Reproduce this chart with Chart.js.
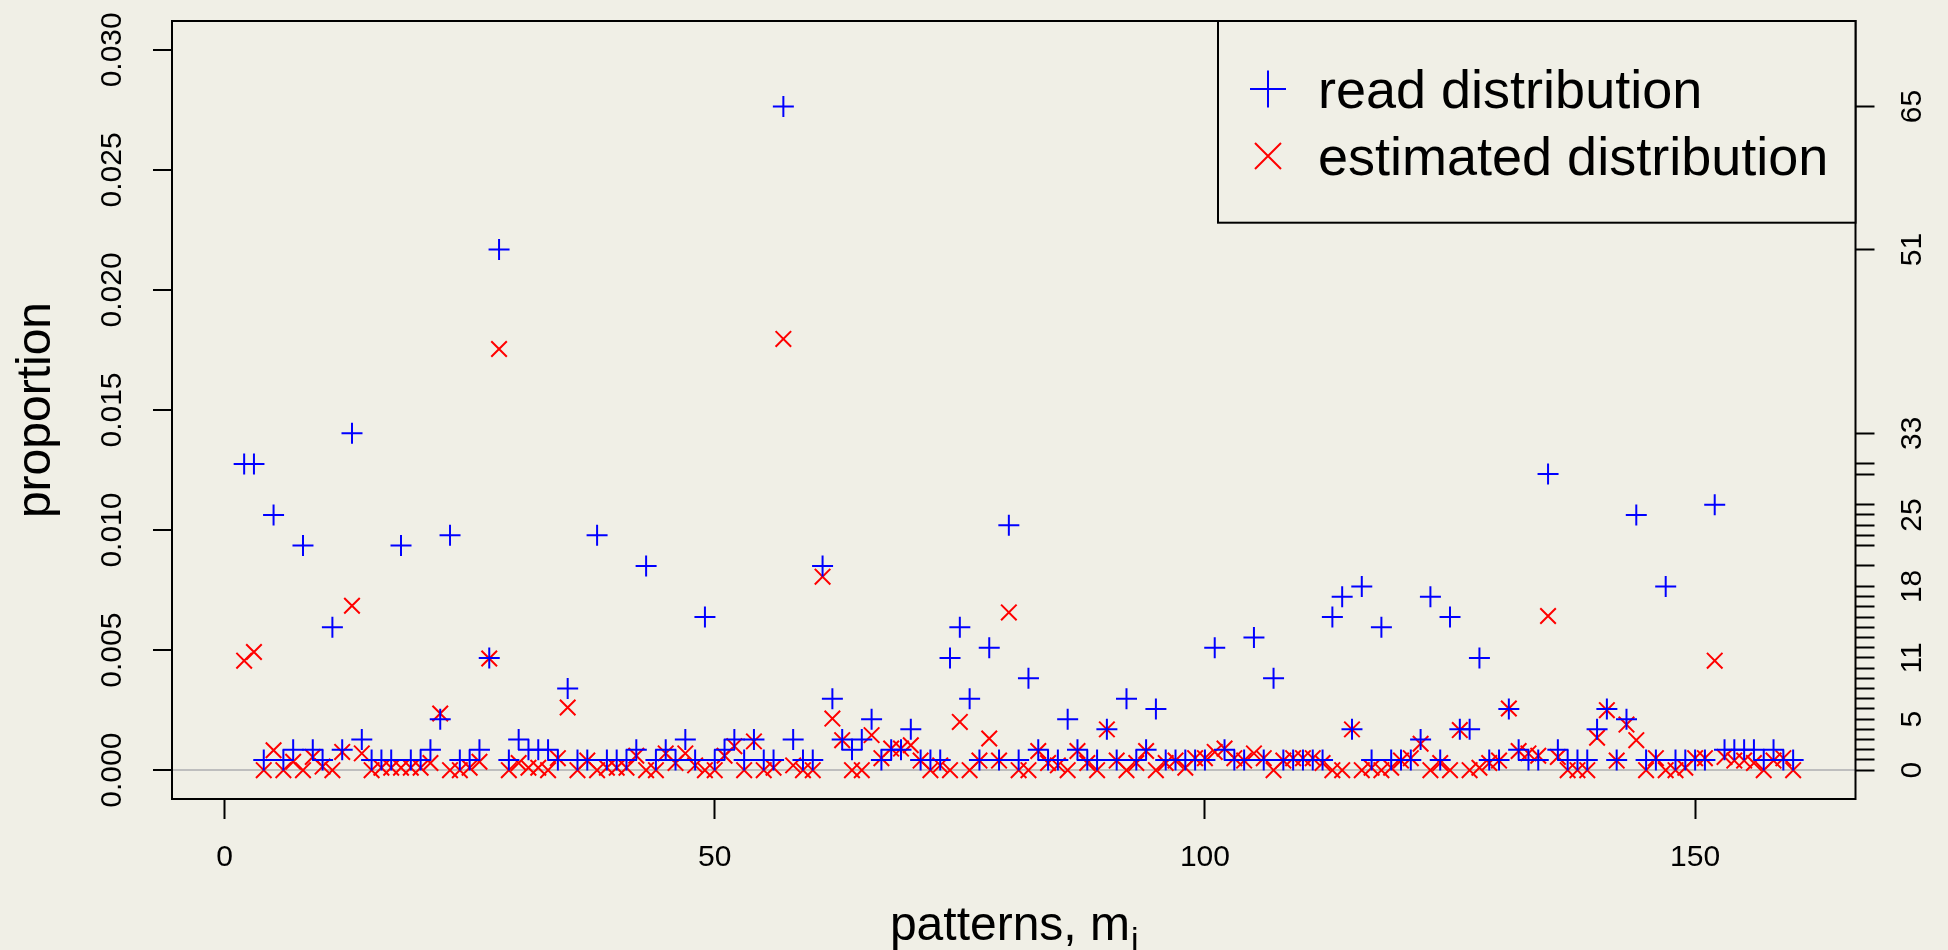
<!DOCTYPE html>
<html lang="en">
<head>
    <meta charset="UTF-8">
    <title>Read vs estimated pattern distribution</title>
    <script src="https://cdn.jsdelivr.net/npm/chart.js@4"></script>
    <style>
        html, body {
            margin: 0;
            padding: 0;
            background-color: #f0efe6;
        }
        #wrap {
            width: 1948px;
            height: 950px;
        }
    </style>
</head>
<body>
<div id="wrap"><canvas id="patternChart" width="1948" height="950"></canvas></div>
<script>
    // pattern index m_i (pattern 1 lies far above the plotted range)
    const patterns = [
          2,   3,   4,   5,   6,   7,   8,   9,  10,  11,
         12,  13,  14,  15,  16,  17,  18,  19,  20,  21,
         22,  23,  24,  25,  26,  27,  28,  29,  30,  31,
         32,  33,  34,  35,  36,  37,  38,  39,  40,  41,
         42,  43,  44,  45,  46,  47,  48,  49,  50,  51,
         52,  53,  54,  55,  56,  57,  58,  59,  60,  61,
         62,  63,  64,  65,  66,  67,  68,  69,  70,  71,
         72,  73,  74,  75,  76,  77,  78,  79,  80,  81,
         82,  83,  84,  85,  86,  87,  88,  89,  90,  91,
         92,  93,  94,  95,  96,  97,  98,  99, 100, 101,
        102, 103, 104, 105, 106, 107, 108, 109, 110, 111,
        112, 113, 114, 115, 116, 117, 118, 119, 120, 121,
        122, 123, 124, 125, 126, 127, 128, 129, 130, 131,
        132, 133, 134, 135, 136, 137, 138, 139, 140, 141,
        142, 143, 144, 145, 146, 147, 148, 149, 150, 151,
        152, 153, 154, 155, 156, 157, 158, 159, 160
    ];

    // number of reads per pattern (right axis)
    const readCounts = [
        30, 30,  1, 25,  1,  2, 22,  2,  1, 14,
         2, 33,  3,  1,  1,  1, 22,  1,  1,  2,
         5, 23,  1,  1,  2, 11, 51,  1,  3,  2,
         2,  2,  1,  8,  1,  1, 23,  1,  1,  1,
         2, 20,  1,  2,  1,  3,  1, 15,  1,  2,
         3,  1,  3,  1,  1, 65,  3,  1,  1, 20,
         7,  3,  2,  3,  5,  1,  2,  2,  4,  1,
         1,  1, 11, 14,  7,  1, 12,  1, 24,  1,
         9,  2,  1,  1,  5,  2,  1,  1,  4,  1,
         7,  1,  2,  6,  1,  1,  1,  1,  1, 12,
         2,  1,  1, 13,  1,  9,  1,  1,  1,  1,
         1, 15, 17,  4, 18,  1, 14,  1,  1,  1,
         3, 17,  1, 15,  4,  4, 11,  1,  1,  6,
         2,  1,  1, 29,  2,  1,  1,  1,  4,  6,
         1,  5, 25,  1,  1, 18,  1,  1,  1,  1,
        26,  2,  2,  2,  2,  1,  2,  1,  1
    ];
    const totalReads = 2352;

    // estimated proportion per pattern
    const estimated = [
        0.00456, 0.00492, 0.0,     0.00083, 0.0,     0.00035, 0.0,     0.00055, 0.00015, 0.0,
        0.00076, 0.00685, 0.0007,  0.0,     0.0001,  0.0001,  0.0001,  0.0001,  0.0001,  0.0003,
        0.00236, 0.0,     0.0,     0.0001,  0.00035, 0.00465, 0.01754, 0.0,     0.0003,  0.0001,
        0.0001,  0.0,     0.0005,  0.00261, 0.0,     0.0004,  0.0,     0.0001,  0.0001,  0.0001,
        0.0006,  0.0,     0.0,     0.0007,  0.0003,  0.0007,  0.0002,  0.0,     0.0,     0.0006,
        0.001,   0.0,     0.0012,  0.0,     0.0001,  0.01796, 0.0002,  0.0,     0.0,     0.00806,
        0.00215, 0.00125, 0.0,     0.0,     0.00146, 0.0005,  0.0009,  0.0009,  0.00104, 0.0004,
        0.0,     0.0002,  0.0,     0.00201, 0.0,     0.0004,  0.00132, 0.0004,  0.00657, 0.0,
        0.0,     0.0008,  0.0003,  0.0002,  0.0,     0.0008,  0.0003,  0.0,     0.0017,  0.0004,
        0.0,     0.0003,  0.0008,  0.0,     0.0003,  0.0004,  0.0001,  0.0005,  0.0005,  0.00076,
        0.0009,  0.0005,  0.0004,  0.0007,  0.0005,  0.0,     0.0004,  0.0005,  0.0005,  0.0005,
        0.0003,  0.0,     0.0,     0.0017,  0.0,     0.0001,  0.0,     0.0001,  0.0004,  0.0005,
        0.0011,  0.0,     0.0003,  0.0,     0.00167, 0.0,     0.0001,  0.0003,  0.0004,  0.00257,
        0.0008,  0.0007,  0.0006,  0.00642, 0.00055, 0.0,     0.0,     0.0,     0.00135, 0.0025,
        0.0004,  0.0019,  0.00125, 0.0,     0.0005,  0.0,     0.0,     0.0001,  0.0005,  0.0005,
        0.00456, 0.00055, 0.0004,  0.0004,  0.0003,  0.0,     0.0004,  0.0005,  0.0
    ];

    const xTicks = [0, 50, 100, 150];
    const yTicks = [0, 0.005, 0.010, 0.015, 0.020, 0.025, 0.030];
    const countTicks = [0, 1, 2, 3, 4, 5, 6, 7, 8, 9, 10, 11, 12, 13, 14, 15, 16, 17, 18,
                        20, 22, 23, 24, 25, 26, 29, 30, 33, 51, 65];
    const countLabels = [0, 5, 11, 18, 25, 33, 51, 65];

    const BG = '#f0efe6';
    const FONT = "'Liberation Sans', Arial, Helvetica, sans-serif";
    const yMin = -0.0012, yMax = 0.0312;

    const readPoints = patterns.map((p, i) => ({x: p, y: readCounts[i] / totalReads}));
    const estPoints = patterns.map((p, i) => ({x: p, y: estimated[i]}));

    // box, legend and axis titles, drawn the way R does them
    const framePlugin = {
        id: 'frame',
        beforeDraw(chart) {
            const ctx = chart.ctx;
            ctx.save();
            ctx.fillStyle = BG;
            ctx.fillRect(0, 0, chart.width, chart.height);
            ctx.restore();
        },
        afterDraw(chart) {
            const ctx = chart.ctx;
            const a = chart.chartArea;
            ctx.save();
            ctx.strokeStyle = '#000';
            ctx.lineWidth = 2;
            ctx.strokeRect(a.left, a.top, a.right - a.left, a.bottom - a.top);

            // legend box in the top right corner
            const lw = 637.5, lh = 201.7;
            const lx = a.right - lw, ly = a.top;
            ctx.fillStyle = BG;
            ctx.fillRect(lx, ly, lw, lh);
            ctx.strokeRect(lx, ly, lw, lh);

            ctx.lineWidth = 2;
            ctx.strokeStyle = '#0000ff';
            ctx.beginPath();
            ctx.moveTo(lx + 32, ly + 68); ctx.lineTo(lx + 68, ly + 68);
            ctx.moveTo(lx + 50, ly + 49.5); ctx.lineTo(lx + 50, ly + 86.5);
            ctx.stroke();
            ctx.strokeStyle = '#ff0000';
            ctx.beginPath();
            ctx.moveTo(lx + 37, ly + 122); ctx.lineTo(lx + 63, ly + 148);
            ctx.moveTo(lx + 63, ly + 122); ctx.lineTo(lx + 37, ly + 148);
            ctx.stroke();

            ctx.fillStyle = '#000';
            ctx.font = '54px ' + FONT;
            ctx.textAlign = 'left';
            ctx.textBaseline = 'alphabetic';
            ctx.fillText('read distribution', lx + 100, ly + 87.3);
            ctx.fillText('estimated distribution', lx + 100, ly + 154);

            // y title
            ctx.save();
            ctx.translate(50, (a.top + a.bottom) / 2);
            ctx.rotate(-Math.PI / 2);
            ctx.textAlign = 'center';
            ctx.font = '48px ' + FONT;
            ctx.fillText('proportion', 0, 0);
            ctx.restore();

            // x title with subscript
            ctx.font = '48px ' + FONT;
            const main = 'patterns, m';
            const wMain = ctx.measureText(main).width;
            ctx.font = '34px ' + FONT;
            const wSub = ctx.measureText('i').width;
            const x0 = (a.left + a.right) / 2 - (wMain + wSub) / 2;
            ctx.textAlign = 'left';
            ctx.font = '48px ' + FONT;
            ctx.fillText(main, x0, 940);
            ctx.font = '34px ' + FONT;
            ctx.fillText('i', x0 + wMain + 1, 951);
            ctx.restore();
        }
    };

    const tickFont = {family: FONT, size: 30};

    const ctx = document.getElementById('patternChart').getContext('2d');
    const chart = new Chart(ctx, {
        type: 'scatter',
        data: {
            datasets: [
                {
                    label: 'read distribution',
                    data: readPoints,
                    pointStyle: 'cross',
                    pointRadius: 10.5,
                    pointHoverRadius: 10.5,
                    pointBorderWidth: 2,
                    borderWidth: 2,
                    borderColor: '#0000ff',
                    pointBorderColor: '#0000ff',
                    backgroundColor: '#0000ff'
                },
                {
                    label: 'estimated distribution',
                    data: estPoints,
                    pointStyle: 'crossRot',
                    pointRadius: 11,
                    pointHoverRadius: 11,
                    pointBorderWidth: 2,
                    borderWidth: 2,
                    borderColor: '#ff0000',
                    pointBorderColor: '#ff0000',
                    backgroundColor: '#ff0000'
                }
            ]
        },
        options: {
            responsive: false,
            animation: false,
            devicePixelRatio: 1,
            events: [],
            layout: {padding: {top: 21, left: 0, right: 0, bottom: 0}},
            plugins: {
                legend: {display: false},
                tooltip: {enabled: false}
            },
            scales: {
                x: {
                    type: 'linear',
                    min: -5.36,
                    max: 166.36,
                    afterBuildTicks: s => { s.ticks = xTicks.map(v => ({value: v})); },
                    ticks: {font: tickFont, color: '#000', padding: 21, autoSkip: false, callback: v => String(v)},
                    grid: {drawOnChartArea: false, tickLength: 20, tickWidth: 2, tickColor: '#000'},
                    border: {display: false},
                    afterFit: s => { s.height = 151; s.paddingLeft = 0; s.paddingRight = 0; }
                },
                y: {
                    type: 'linear',
                    position: 'left',
                    min: yMin,
                    max: yMax,
                    afterBuildTicks: s => { s.ticks = yTicks.map(v => ({value: v})); },
                    ticks: {
                        font: tickFont, color: '#000', padding: 2.5, autoSkip: false,
                        minRotation: 90, maxRotation: 90, crossAlign: 'center',
                        callback: v => v.toFixed(3)
                    },
                    grid: {
                        drawOnChartArea: true,
                        color: c => (c.tick && c.tick.value === 0) ? '#bebebe' : 'rgba(0,0,0,0)',
                        lineWidth: 2,
                        tickLength: 19, tickWidth: 2, tickColor: '#000'
                    },
                    border: {display: false},
                    afterFit: s => { s.width = 172; s.paddingTop = 0; s.paddingBottom = 0; }
                },
                y2: {
                    type: 'linear',
                    position: 'right',
                    min: yMin * totalReads,
                    max: yMax * totalReads,
                    afterBuildTicks: s => { s.ticks = countTicks.map(v => ({value: v})); },
                    ticks: {
                        font: tickFont, color: '#000', padding: 22, autoSkip: false,
                        minRotation: 90, maxRotation: 90, crossAlign: 'center',
                        callback: v => countLabels.includes(v) ? String(v) : ''
                    },
                    grid: {drawOnChartArea: false, tickLength: 19, tickWidth: 2, tickColor: '#000'},
                    border: {display: false},
                    afterFit: s => { s.width = 92.5; s.paddingTop = 0; s.paddingBottom = 0; }
                }
            }
        },
        plugins: [framePlugin]
    });
</script>
</body>
</html>
